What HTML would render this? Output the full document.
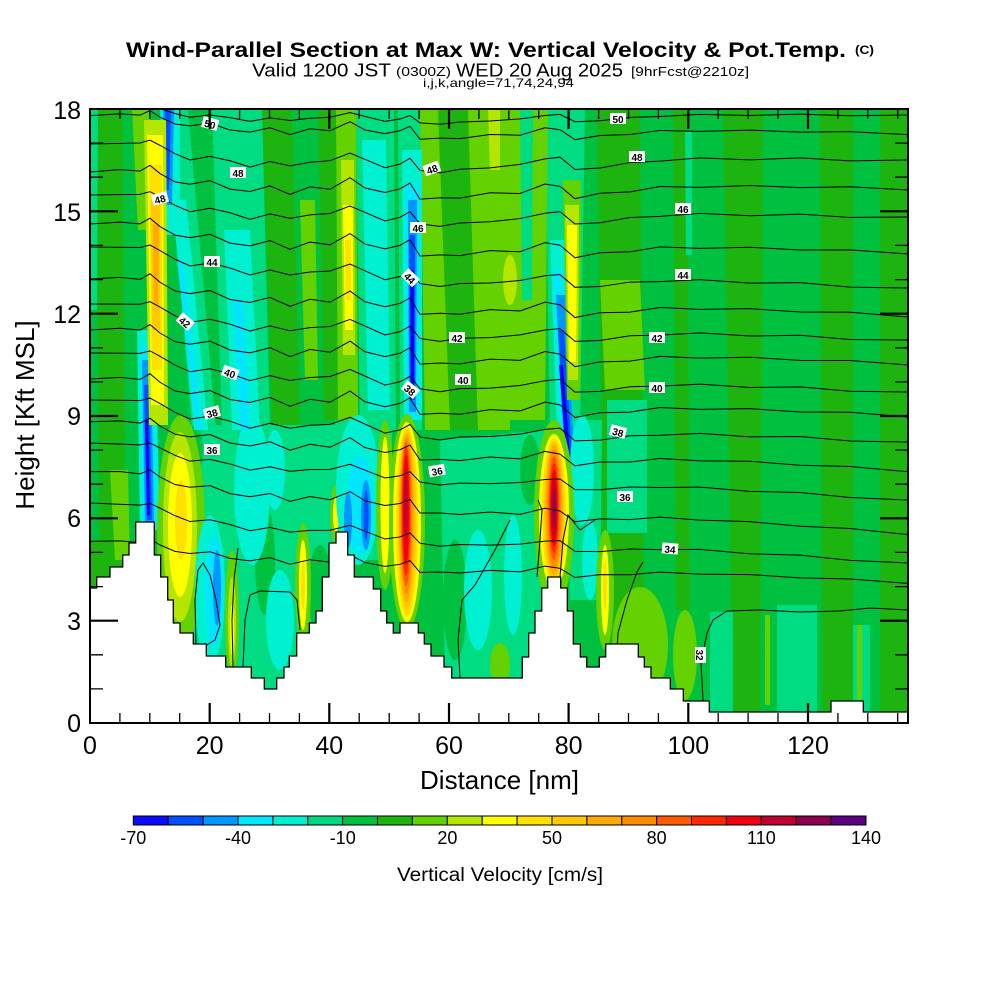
<!DOCTYPE html>
<html><head><meta charset="utf-8"><style>
html,body{margin:0;padding:0;background:#fff;}
svg{display:block;font-family:"Liberation Sans",Arial,sans-serif;}
</style></head><body>
<svg width="1000" height="1000" viewBox="0 0 1000 1000" xmlns="http://www.w3.org/2000/svg">
<defs>
<clipPath id="pc"><rect x="90" y="109" width="818" height="614"/></clipPath>
<path id="wa" vector-effect="non-scaling-stroke" d="M90,0 L140,-2 L150,-5 L160,0 L175,8 L190,14 L210,10 L230,14 L250,20 L270,14 L290,18 L310,14 L330,12 L350,4 L365,10 L385,18 L400,14 L410,8 L420,20 L440,22 L460,18 L490,16 L520,12 L545,6 L560,4 L575,16 L600,14 L630,8 L660,6 L700,2 L750,3 L800,0 L850,2 L908,0"/>
<path id="wb" vector-effect="non-scaling-stroke" d="M90,2 L120,-1 L140,0 L150,-6 L160,2 L175,10 L190,12 L210,8 L230,16 L250,18 L270,12 L290,20 L310,12 L330,14 L350,2 L365,12 L385,16 L400,12 L410,6 L420,22 L440,20 L460,20 L490,14 L520,14 L545,4 L560,6 L575,18 L600,12 L630,10 L660,4 L700,4 L750,1 L800,2 L850,0 L908,2"/>
</defs>
<rect width="1000" height="1000" fill="#fff"/>

<!-- Title -->
<text x="126" y="57" font-size="21" font-weight="bold" textLength="720" lengthAdjust="spacingAndGlyphs">Wind-Parallel Section at Max W: Vertical Velocity &amp; Pot.Temp.</text>
<text x="855" y="54" font-size="12" font-weight="bold" textLength="19" lengthAdjust="spacingAndGlyphs">(C)</text>
<text x="252" y="76.5" font-size="18" textLength="139" lengthAdjust="spacingAndGlyphs">Valid 1200 JST</text>
<text x="396" y="76" font-size="13" textLength="55" lengthAdjust="spacingAndGlyphs">(0300Z)</text>
<text x="456" y="76.5" font-size="18" textLength="167" lengthAdjust="spacingAndGlyphs">WED 20 Aug 2025</text>
<text x="631" y="76" font-size="13" textLength="118" lengthAdjust="spacingAndGlyphs">[9hrFcst@2210z]</text>
<text x="423" y="87" font-size="12" textLength="151" lengthAdjust="spacingAndGlyphs">i,j,k,angle=71,74,24,94</text>

<g clip-path="url(#pc)">
<rect x="90" y="109" width="818" height="614" fill="#00c040"/>
<!-- dark green stripes -->
<g fill="#1eb40f">
<polygon points="96,109 122,109 126,600 100,600"/>
<polygon points="262,109 292,109 300,430 272,430"/>
<polygon points="318,109 338,109 342,420 324,420"/>
<polygon points="597,109 640,109 645,712 605,712"/>
<polygon points="673,109 687,109 690,610 676,610"/>
<polygon points="723,109 763,109 760,712 733,712"/>
<polygon points="820,109 853,109 853,712 822,712"/>
<polygon points="880,109 908,109 908,712 880,712"/>
<polygon points="90,540 110,540 115,600 90,600"/>
</g>
<!-- teal -->
<g fill="#00dc82">
<polygon points="90,109 98,109 97,310 90,310"/>
<polygon points="166,109 188,109 216,430 192,430"/>
<polygon points="212,109 262,109 270,430 222,430"/>
<polygon points="356,109 394,109 396,430 360,430"/>
<polygon points="398,109 422,109 422,430 400,430"/>
<polygon points="185,425 335,425 335,700 185,700"/>
<polygon points="440,440 545,430 545,680 445,680"/>
<polygon points="565,420 602,420 600,600 570,600"/>
<polygon points="545,109 585,109 580,430 550,430"/>
<polygon points="685,132 692,132 692,255 686,255"/>
<polygon points="607,400 647,400 647,533 607,533"/>
<polygon points="710,612 733,612 733,712 710,712"/>
<polygon points="777,605 817,605 817,712 777,712"/>
<polygon points="853,625 870,625 870,712 853,712"/>
<polygon points="335,420 392,420 392,560 335,560"/>
</g>
<!-- medium-green patches breaking teal -->
<g fill="#00c040">
<ellipse cx="265" cy="560" rx="10" ry="55"/>
<ellipse cx="320" cy="590" rx="12" ry="45"/>
<ellipse cx="195" cy="450" rx="8" ry="25"/>
<ellipse cx="455" cy="600" rx="12" ry="60"/>
<ellipse cx="530" cy="470" rx="10" ry="35"/>
</g>
<!-- lime -->
<g fill="#64d200">
<polygon points="132,109 150,109 148,230 138,230"/>
<polygon points="420,109 512,109 510,430 425,430"/>
<polygon points="500,109 548,109 545,420 503,420"/>
<polygon points="336,109 356,109 358,420 338,420"/>
<polygon points="300,200 315,200 318,380 305,380"/>
<polygon points="600,280 640,280 645,390 605,390"/>
<polygon points="110,470 128,470 130,560 115,560"/>
<ellipse cx="640" cy="645" rx="28" ry="58"/>
<ellipse cx="685" cy="655" rx="12" ry="45"/>
<polygon points="765,615 770,615 770,705 765,705"/>
<polygon points="857,625 862,625 862,700 857,700"/>
<ellipse cx="500" cy="665" rx="10" ry="22"/>
<ellipse cx="322" cy="640" rx="5" ry="25"/>
</g>
<polygon points="438,109 468,109 478,430 450,430" fill="#1eb40f"/>
<polygon points="520,109 533,109 532,300 522,300" fill="#00dc82"/>
<ellipse cx="510" cy="280" rx="7" ry="25" fill="#b4e600"/>
<polygon points="488,109 500,109 500,170 490,170" fill="#b4e600"/>

<!-- Column A upper -->
<polygon points="160,109 180,109 180,235 166,235" fill="#00f0d2"/>
<polygon points="163,109 174,109 172,205 166,205" fill="#0096ff"/>
<polygon points="165,109 171,109 169,190 167,190" fill="#0050ff"/>
<polygon points="172,200 186,200 208,430 194,430" fill="#00f0d2"/>
<polygon points="177,260 183,260 202,430 196,430" fill="#00e6ff"/>
<polygon points="137,330 155,330 160,530 140,530" fill="#00f0d2"/>
<polygon points="140,345 153,345 157,530 143,530" fill="#00e6ff"/>
<polygon points="142,360 151,360 154,525 145,525" fill="#0096ff"/>
<polygon points="144,385 149,385 152,520 147,520" fill="#0050ff"/>
<polygon points="145,420 148,420 150,515 147,515" fill="#0000ff"/>
<polygon points="144,120 166,120 168,425 149,425" fill="#b4e600"/>
<polygon points="147,135 163,135 164,405 151,405" fill="#ffff00"/>
<polygon points="149,165 162,165 162,370 152,370" fill="#ffe100"/>
<polygon points="151,195 160,195 160,330 152,330" fill="#ffc800"/>
<polygon points="153,225 159,225 158,305 154,305" fill="#ffaa00"/>

<!-- lower left features -->
<ellipse cx="181" cy="530" rx="24" ry="115" fill="#64d200"/>
<ellipse cx="180" cy="527" rx="17" ry="95" fill="#b4e600"/>
<ellipse cx="180" cy="525" rx="12" ry="72" fill="#ffff00"/>
<ellipse cx="181" cy="520" rx="6" ry="40" fill="#ffe100"/>
<ellipse cx="210" cy="590" rx="15" ry="75" fill="#00f0d2"/>
<ellipse cx="214" cy="592" rx="9" ry="55" fill="#00e6ff"/>
<ellipse cx="217" cy="588" rx="4" ry="38" fill="#0096ff"/>
<ellipse cx="232" cy="615" rx="7" ry="65" fill="#64d200"/>
<ellipse cx="232" cy="622" rx="4" ry="45" fill="#b4e600"/>
<ellipse cx="232" cy="630" rx="2" ry="25" fill="#ffff00"/>
<ellipse cx="252" cy="490" rx="18" ry="75" fill="#00f0d2"/>
<ellipse cx="280" cy="620" rx="14" ry="50" fill="#00f0d2"/>
<ellipse cx="275" cy="470" rx="10" ry="40" fill="#00f0d2"/>
<polygon points="224,230 250,230 260,430 232,430" fill="#00f0d2"/>
<polygon points="233,300 243,300 250,430 240,430" fill="#00e6ff"/>
<ellipse cx="303" cy="585" rx="8" ry="62" fill="#64d200"/>
<ellipse cx="303" cy="585" rx="4" ry="45" fill="#ffff00"/>
<ellipse cx="303" cy="585" rx="2" ry="25" fill="#ffe100"/>

<!-- Column H -->
<polygon points="341,160 354,160 355,355 343,355" fill="#b4e600"/>
<polygon points="343,205 353,205 353,330 345,330" fill="#ffff00"/>
<polygon points="345,240 351,240 351,300 346,300" fill="#ffe100"/>
<ellipse cx="336" cy="515" rx="6" ry="30" fill="#64d200"/>
<ellipse cx="336" cy="515" rx="3" ry="18" fill="#ffff00"/>
<polygon points="362,140 386,140 390,410 368,410" fill="#00f0d2"/>
<ellipse cx="358" cy="490" rx="22" ry="75" fill="#00f0d2"/>
<ellipse cx="360" cy="505" rx="13" ry="50" fill="#00e6ff"/>
<ellipse cx="348" cy="520" rx="4" ry="28" fill="#0096ff"/>
<ellipse cx="366" cy="515" rx="5" ry="35" fill="#0096ff"/>
<ellipse cx="366" cy="515" rx="2.5" ry="25" fill="#0050ff"/>
<ellipse cx="385" cy="505" rx="9" ry="85" fill="#64d200"/>
<ellipse cx="385" cy="505" rx="4.5" ry="68" fill="#ffff00"/>

<!-- Column I -->
<polygon points="402,150 422,150 422,420 404,420" fill="#00f0d2"/>
<polygon points="405,185 419,185 419,418 407,418" fill="#00e6ff"/>
<polygon points="408,200 417,200 416,412 409,412" fill="#0096ff"/>
<polygon points="409,235 415,235 415,400 410,400" fill="#0050ff"/>
<polygon points="410,270 414,270 414,385 411,385" fill="#0000ff"/>
<ellipse cx="407" cy="522" rx="18" ry="108" fill="#64d200"/>
<ellipse cx="407" cy="522" rx="14" ry="100" fill="#ffff00"/>
<ellipse cx="407" cy="522" rx="11" ry="95" fill="#ffe100"/>
<ellipse cx="407" cy="520" rx="9" ry="90" fill="#ffc800"/>
<ellipse cx="406.5" cy="518" rx="7.5" ry="84" fill="#ffaa00"/>
<ellipse cx="406.5" cy="516" rx="6" ry="78" fill="#ff8c00"/>
<ellipse cx="406" cy="514" rx="5" ry="72" fill="#ff5a00"/>
<ellipse cx="406" cy="512" rx="4" ry="64" fill="#ff2800"/>
<ellipse cx="406" cy="510" rx="3" ry="55" fill="#f00010"/>
<ellipse cx="406" cy="505" rx="1.8" ry="35" fill="#c00030"/>

<ellipse cx="478" cy="590" rx="14" ry="60" fill="#00f0d2"/>
<ellipse cx="513" cy="575" rx="9" ry="60" fill="#00f0d2"/>

<!-- Column 3 -->
<polygon points="550,240 568,240 572,430 557,430" fill="#00f0d2"/>
<polygon points="553,270 566,270 574,440 562,440" fill="#00e6ff"/>
<polygon points="556,295 566,295 576,485 566,485" fill="#0096ff"/>
<polygon points="558,330 564,330 573,472 567,472" fill="#0050ff"/>
<polygon points="559,365 563,365 570,455 566,455" fill="#0000ff"/>
<polygon points="563,180 581,180 580,400 567,400" fill="#64d200"/>
<polygon points="565,205 579,205 578,380 568,380" fill="#b4e600"/>
<polygon points="567,225 577,225 576,362 569,362" fill="#ffff00"/>
<ellipse cx="582" cy="470" rx="12" ry="55" fill="#00f0d2"/>
<ellipse cx="590" cy="560" rx="8" ry="40" fill="#00f0d2"/>
<ellipse cx="554" cy="515" rx="20" ry="95" fill="#64d200"/>
<ellipse cx="554" cy="512" rx="15" ry="78" fill="#ffff00"/>
<ellipse cx="554" cy="512" rx="12" ry="74" fill="#ffe100"/>
<ellipse cx="554" cy="511" rx="10" ry="70" fill="#ffc800"/>
<ellipse cx="554" cy="510" rx="8.5" ry="65" fill="#ffaa00"/>
<ellipse cx="554" cy="509" rx="7" ry="60" fill="#ff8c00"/>
<ellipse cx="554" cy="508" rx="5.5" ry="52" fill="#ff5a00"/>
<ellipse cx="554" cy="508" rx="4.5" ry="45" fill="#ff2800"/>
<ellipse cx="554" cy="508" rx="3.5" ry="38" fill="#f00010"/>
<ellipse cx="554" cy="508" rx="2.5" ry="30" fill="#c00030"/>
<ellipse cx="554" cy="508" rx="1.5" ry="18" fill="#8c0050"/>
<ellipse cx="605" cy="590" rx="9" ry="60" fill="#64d200"/>
<ellipse cx="605" cy="590" rx="4" ry="45" fill="#ffff00"/>
<ellipse cx="605" cy="585" rx="2" ry="25" fill="#ffe100"/>

<!-- isentropes -->
<g fill="none" stroke="#000" stroke-width="1">
<use href="#wa" transform="matrix(1,0.00856,0,0.6,0,107.23)"/>
<use href="#wb" transform="matrix(1,0.02323,0,0.8,0,111.91)"/>
<use href="#wa" transform="matrix(1,0.01956,0,1,0,142.24)"/>
<use href="#wb" transform="matrix(1,0.0220,0,1,0,168.02)"/>
<use href="#wa" transform="matrix(1,0.02689,0,1,0,192.58)"/>
<use href="#wb" transform="matrix(1,0.03667,0,1,0,218.70)"/>
<use href="#wa" transform="matrix(1,0.05012,0,1,0,242.49)"/>
<use href="#wb" transform="matrix(1,0.04645,0,1,0,272.82)"/>
<use href="#wa" transform="matrix(1,0.04401,0,1,0,300.04)"/>
<use href="#wb" transform="matrix(1,0.04279,0,1,0,324.15)"/>
<use href="#wa" transform="matrix(1,0.04768,0,1,0,348.71)"/>
<use href="#wb" transform="matrix(1,0.04645,0,1,0,372.82)"/>
<use href="#wa" transform="matrix(1,0.05134,0,1,0,395.38)"/>
<use href="#wb" transform="matrix(1,0.06112,0,0.9,0,414.50)"/>
<use href="#wa" transform="matrix(1,0.06968,0,0.8,0,436.73)"/>
<use href="#wb" transform="matrix(1,0.07702,0,0.8,0,463.07)"/>
<use href="#wa" transform="matrix(1,0.07335,0,0.8,0,496.40)"/>
<use href="#wb" transform="matrix(1,0.05134,0,0.7,0,535.38)"/>
<polyline points="908,610 870,608 840,611 800,612 760,610 727,611 713,620 707,633 701,663 703,700 705,712"/>
<polyline points="643,562 637,572 627,600 618,633 617,650"/>
<polyline points="196,648 195,600 198,570 203,563 210,575 216,600 220,625 215,640 205,646"/>
<polyline points="233,667 232,620 234,580 238,548"/>
<polyline points="243,667 245,620 250,595 260,591 290,592 297,600 300,630"/>
<polyline points="460,678 458,640 462,600 475,585 495,550 510,520"/>
<polyline points="537,577 540,540 542,510 538,500"/>
<polyline points="560,577 563,540 568,515 580,530 595,520"/>
</g>

<!-- terrain -->
<polygon fill="#fff" stroke="#000" stroke-width="1.3" points="90,723 90,588 96.7,588 96.7,577 110,577 110,567 122.7,567 122.7,555 129,555 129,543 135.7,543 135.7,522 154.3,522 154.3,555 160.7,555 160.7,577 167.7,577 167.7,600 173.3,600 173.3,623 180,623 180,633 193.3,633 193.3,644 206.3,644 206.3,656 225.7,656 225.7,667 251.3,667 251.3,678 264.3,678 264.3,689 276.7,689 276.7,678 284,678 284,667 289.3,667 289.3,656 296.7,656 296.7,633 309.3,633 309.3,623 316,623 316,611 322.3,611 322.3,577 329,577 329,543 336,543 336,532 347.7,532 347.7,555 354.3,555 354.3,577 373.3,577 373.3,589 380.7,589 380.7,611 386.7,611 386.7,623 393.3,623 393.3,633 400,633 400,623 418.3,623 418.3,633 424.3,633 424.3,644 431,644 431,656 444,656 444,667 451.7,667 451.7,678 522.3,678 522.3,657 528.7,657 528.7,633 535,633 535,611 541.7,611 541.7,588 547.7,588 547.7,577 560.7,577 560.7,588 567.3,588 567.3,611 573.3,611 573.3,644 580.3,644 580.3,657 586.7,657 586.7,667 599.3,667 599.3,657 605.7,657 605.7,644 638.3,644 638.3,657 644.3,657 644.3,667 651,667 651,678 670.3,678 670.3,689 683.3,689 683.3,701 709.3,701 709.3,712 831,712 831,701 863.3,701 863.3,712 908,712 908,723"/>

<!-- contour labels -->
<g font-size="10" font-weight="bold" text-anchor="middle">
<g transform="translate(210,124) rotate(15)"><rect x="-8" y="-6" width="16" height="11" fill="#fff"/><text y="4">50</text></g>
<g transform="translate(160,199) rotate(-15)"><rect x="-8" y="-6" width="16" height="11" fill="#fff"/><text y="4">48</text></g>
<g transform="translate(238,173)"><rect x="-8" y="-6" width="16" height="11" fill="#fff"/><text y="4">48</text></g>
<g transform="translate(212,262)"><rect x="-8" y="-6" width="16" height="11" fill="#fff"/><text y="4">44</text></g>
<g transform="translate(185,322) rotate(40)"><rect x="-8" y="-6" width="16" height="11" fill="#fff"/><text y="4">42</text></g>
<g transform="translate(230,373) rotate(20)"><rect x="-8" y="-6" width="16" height="11" fill="#fff"/><text y="4">40</text></g>
<g transform="translate(212,413) rotate(-15)"><rect x="-8" y="-6" width="16" height="11" fill="#fff"/><text y="4">38</text></g>
<g transform="translate(212,450)"><rect x="-8" y="-6" width="16" height="11" fill="#fff"/><text y="4">36</text></g>
<g transform="translate(432,169) rotate(-20)"><rect x="-8" y="-6" width="16" height="11" fill="#fff"/><text y="4">48</text></g>
<g transform="translate(418,228)"><rect x="-8" y="-6" width="16" height="11" fill="#fff"/><text y="4">46</text></g>
<g transform="translate(410,278) rotate(45)"><rect x="-8" y="-6" width="16" height="11" fill="#fff"/><text y="4">44</text></g>
<g transform="translate(457,338)"><rect x="-8" y="-6" width="16" height="11" fill="#fff"/><text y="4">42</text></g>
<g transform="translate(463,380)"><rect x="-8" y="-6" width="16" height="11" fill="#fff"/><text y="4">40</text></g>
<g transform="translate(410,390) rotate(40)"><rect x="-8" y="-6" width="16" height="11" fill="#fff"/><text y="4">38</text></g>
<g transform="translate(437,471) rotate(-10)"><rect x="-8" y="-6" width="16" height="11" fill="#fff"/><text y="4">36</text></g>
<g transform="translate(618,119)"><rect x="-8" y="-6" width="16" height="11" fill="#fff"/><text y="4">50</text></g>
<g transform="translate(637,157)"><rect x="-8" y="-6" width="16" height="11" fill="#fff"/><text y="4">48</text></g>
<g transform="translate(683,209)"><rect x="-8" y="-6" width="16" height="11" fill="#fff"/><text y="4">46</text></g>
<g transform="translate(683,275)"><rect x="-8" y="-6" width="16" height="11" fill="#fff"/><text y="4">44</text></g>
<g transform="translate(657,338)"><rect x="-8" y="-6" width="16" height="11" fill="#fff"/><text y="4">42</text></g>
<g transform="translate(657,388)"><rect x="-8" y="-6" width="16" height="11" fill="#fff"/><text y="4">40</text></g>
<g transform="translate(618,432) rotate(15)"><rect x="-8" y="-6" width="16" height="11" fill="#fff"/><text y="4">38</text></g>
<g transform="translate(625,497)"><rect x="-8" y="-6" width="16" height="11" fill="#fff"/><text y="4">36</text></g>
<g transform="translate(670,549) rotate(5)"><rect x="-8" y="-6" width="16" height="11" fill="#fff"/><text y="4">34</text></g>
<g transform="translate(700,655) rotate(90)"><rect x="-8" y="-6" width="16" height="11" fill="#fff"/><text y="4">32</text></g>
</g>
</g>

<!-- frame & ticks -->
<rect x="90" y="109" width="818" height="614" fill="none" stroke="#000" stroke-width="2"/>
<path fill="none" stroke="#000" stroke-width="1.3" d="
M119.9,723v-10 M149.8,723v-10 M179.7,723v-10 M239.6,723v-10 M269.5,723v-10 M299.4,723v-10 M359.2,723v-10 M389.2,723v-10 M419.1,723v-10 M478.9,723v-10 M508.8,723v-10 M538.7,723v-10 M598.6,723v-10 M628.5,723v-10 M658.4,723v-10 M718.2,723v-10 M748.1,723v-10 M778,723v-10 M837.9,723v-10 M867.8,723v-10 M897.7,723v-10
M119.9,109v10 M149.8,109v10 M179.7,109v10 M239.6,109v10 M269.5,109v10 M299.4,109v10 M359.2,109v10 M389.2,109v10 M419.1,109v10 M478.9,109v10 M508.8,109v10 M538.7,109v10 M598.6,109v10 M628.5,109v10 M658.4,109v10 M718.2,109v10 M748.1,109v10 M778,109v10 M837.9,109v10 M867.8,109v10 M897.7,109v10
M90,688.9h13 M90,654.8h13 M90,586.6h13 M90,552.4h13 M90,484.2h13 M90,450.1h13 M90,381.9h13 M90,347.8h13 M90,279.6h13 M90,245.4h13 M90,177.2h13 M90,143.1h13
M908,688.9h-13 M908,654.8h-13 M908,586.6h-13 M908,552.4h-13 M908,484.2h-13 M908,450.1h-13 M908,381.9h-13 M908,347.8h-13 M908,279.6h-13 M908,245.4h-13 M908,177.2h-13 M908,143.1h-13"/>
<path fill="none" stroke="#000" stroke-width="2.2" d="
M209.7,723v-20 M329.3,723v-20 M449,723v-20 M568.6,723v-20 M688.3,723v-20 M808,723v-20
M209.7,109v20 M329.3,109v20 M449,109v20 M568.6,109v20 M688.3,109v20 M808,109v20
M90,620.7h28 M90,518.3h28 M90,416h28 M90,313.7h28 M90,211.3h28
M908,620.7h-28 M908,518.3h-28 M908,416h-28 M908,313.7h-28 M908,211.3h-28"/>

<!-- axis labels -->
<g font-size="25" text-anchor="middle">
<text x="90" y="754">0</text>
<text x="209.7" y="754">20</text>
<text x="329.3" y="754">40</text>
<text x="449" y="754">60</text>
<text x="568.6" y="754">80</text>
<text x="688.3" y="754">100</text>
<text x="808" y="754">120</text>
</g>
<g font-size="25" text-anchor="end">
<text x="81" y="119">18</text>
<text x="81" y="221">15</text>
<text x="81" y="323">12</text>
<text x="81" y="425">9</text>
<text x="81" y="527">6</text>
<text x="81" y="630">3</text>
<text x="81" y="732">0</text>
</g>
<text x="499.5" y="789" font-size="26" text-anchor="middle">Distance [nm]</text>
<text transform="translate(34,415) rotate(-90)" font-size="26" text-anchor="middle">Height [Kft MSL]</text>

<!-- colorbar -->
<g stroke="#000" stroke-width="1">
<rect x="133.3" y="816" width="34.9" height="9" fill="#0a0aff"/>
<rect x="168.2" y="816" width="34.9" height="9" fill="#0050ff"/>
<rect x="203.1" y="816" width="34.9" height="9" fill="#0096ff"/>
<rect x="238.0" y="816" width="34.9" height="9" fill="#00e6ff"/>
<rect x="272.9" y="816" width="34.9" height="9" fill="#00f0d2"/>
<rect x="307.8" y="816" width="34.9" height="9" fill="#00d882"/>
<rect x="342.6" y="816" width="34.9" height="9" fill="#00c040"/>
<rect x="377.5" y="816" width="34.9" height="9" fill="#1eb40f"/>
<rect x="412.4" y="816" width="34.9" height="9" fill="#64d200"/>
<rect x="447.3" y="816" width="34.9" height="9" fill="#b4e600"/>
<rect x="482.2" y="816" width="34.9" height="9" fill="#ffff00"/>
<rect x="517.1" y="816" width="34.9" height="9" fill="#ffe100"/>
<rect x="552.0" y="816" width="34.9" height="9" fill="#ffc800"/>
<rect x="586.9" y="816" width="34.9" height="9" fill="#ffaa00"/>
<rect x="621.8" y="816" width="34.9" height="9" fill="#ff8c00"/>
<rect x="656.7" y="816" width="34.9" height="9" fill="#ff5a00"/>
<rect x="691.5" y="816" width="34.9" height="9" fill="#ff2800"/>
<rect x="726.4" y="816" width="34.9" height="9" fill="#f00010"/>
<rect x="761.3" y="816" width="34.9" height="9" fill="#c00030"/>
<rect x="796.2" y="816" width="34.9" height="9" fill="#8c0050"/>
<rect x="831.1" y="816" width="34.9" height="9" fill="#5a0080"/>
</g>
<g font-size="18" text-anchor="middle">
<text x="133.3" y="844">-70</text>
<text x="238" y="844">-40</text>
<text x="342.7" y="844">-10</text>
<text x="447.4" y="844">20</text>
<text x="552" y="844">50</text>
<text x="656.7" y="844">80</text>
<text x="761.4" y="844">110</text>
<text x="866" y="844">140</text>
</g>
<text x="397" y="881" font-size="19" textLength="206" lengthAdjust="spacingAndGlyphs">Vertical Velocity [cm/s]</text>
</svg>
</body></html>
